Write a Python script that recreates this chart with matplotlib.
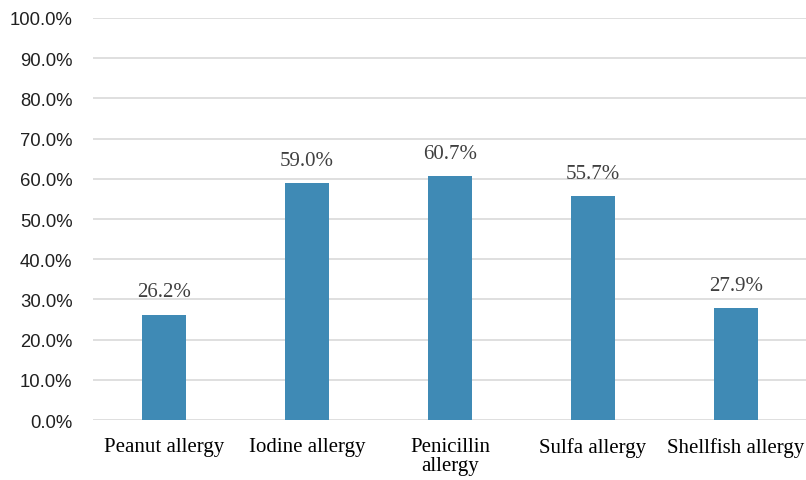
import matplotlib.pyplot as plt

categories = ['Peanut allergy', 'Iodine allergy', 'Penicillin\nallergy', 'Sulfa allergy', 'Shellfish allergy']
values = [26.2, 59.0, 60.7, 55.7, 27.9]
yticks = [0, 10, 20, 30, 40, 50, 60, 70, 80, 90, 100]

fig = plt.figure(figsize=(8.06, 4.81), dpi=100)
ax = fig.add_axes([0.1148, 0.1247, 0.887, 0.8358])

x = range(len(categories))
bars = ax.bar(x, values, width=0.31, color='#3f8ab5', zorder=3)

for b, v in zip(bars, values):
    ax.text(b.get_x() + b.get_width() / 2, v + 3.3, f'{v:.1f}%', ha='center', va='bottom',
            fontsize=15, color='#404040', family='Liberation Serif')

ax.set_xlim(-0.5, len(categories) - 0.5)
ax.set_ylim(0, 100)
ax.set_yticks(yticks)
ax.set_yticklabels([f'{t:.1f}%' for t in yticks], family='Liberation Sans', fontsize=13.3, color='#202020')
ax.set_xticks(list(x))
ax.set_xticklabels(categories, family='Liberation Serif', fontsize=15, color='black', linespacing=1.05)
ax.tick_params(axis='both', length=0)
ax.tick_params(axis='y', pad=14.5)
ax.tick_params(axis='x', pad=12)
ax.grid(axis='y', color='#d9d9d9', linewidth=1.2, zorder=0)
for s in ax.spines.values():
    s.set_visible(False)

fig.savefig('out.png', dpi=100)
